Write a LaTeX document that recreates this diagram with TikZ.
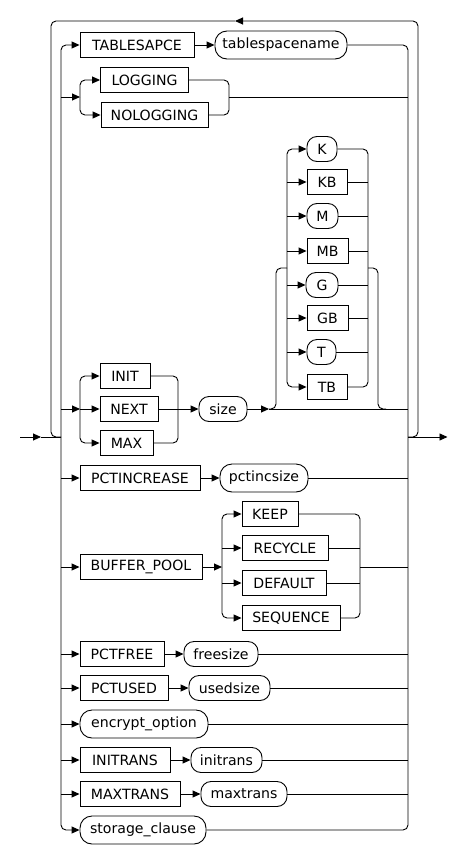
\documentclass[tikz,border=0pt]{standalone}
\usepackage{fontspec}
\setmainfont{DejaVu Sans}
\usetikzlibrary{arrows.meta}
\newcommand\rrfont{\fontsize{14.1}{16}\selectfont}
\tikzset{
  kw/.style={draw, rectangle, minimum height=25, inner sep=0pt, font=\rrfont, line width=0.9pt},
  var/.style={draw, rectangle, rounded corners=10, minimum height=25, inner sep=0pt, font=\rrfont, line width=0.9pt},
  arr/.style={-{Triangle[length=8pt,width=7pt]}},
  rc/.style={rounded corners=5},
}
\begin{document}
\begin{tikzpicture}[x=1pt,y=-1pt,line width=0.9pt]
\useasboundingbox (0,0) rectangle (448,854);
% reference coordinates
\coordinate (L) at (61,0);
\coordinate (R) at (408,0);
\coordinate (in) at (20,437);
\coordinate (inA) at (41,437);
\coordinate (jl) at (61,437);
\coordinate (jr) at (408,437);
\coordinate (out) at (447.5,437);
\coordinate (topA) at (235,21);
% nodes
\node[kw, minimum width=114] (tsp) at (137,45) {TABLESAPCE};
\node[var, minimum width=132, minimum height=28, rounded corners=12] (tspn) at (281,45) {tablespacename};
\node[kw, minimum width=88] (logging) at (144.5,80) {LOGGING};
\node[kw, minimum width=107] (nologging) at (154.5,115) {NOLOGGING};
\node[var, minimum width=30] (K) at (322,149) {K};
\node[kw, minimum width=40] (KB) at (327,182) {KB};
\node[var, minimum width=31] (M) at (322.5,216) {M};
\node[kw, minimum width=41] (MB) at (327.5,251) {MB};
\node[var, minimum width=32] (G) at (322,285) {G};
\node[kw, minimum width=41] (GB) at (327.5,318) {GB};
\node[var, minimum width=29] (T) at (321.5,352) {T};
\node[kw, minimum width=40] (TB) at (327,387) {TB};
\node[kw, minimum width=50] (init) at (125,376) {INIT};
\node[kw, minimum width=58] (next) at (129,409) {NEXT};
\node[kw, minimum width=53] (max) at (126.5,443) {MAX};
\node[var, minimum width=48] (size) at (223,409) {size};
\node[kw, minimum width=120] (pctinc) at (140,478) {PCTINCREASE};
\node[var, minimum width=88, minimum height=28, rounded corners=12] (pctincsize) at (264,478) {pctincsize};
\node[kw, minimum width=122] (bp) at (141,567) {BUFFER\_POOL};
\node[kw, minimum width=56] (keep) at (270,514) {KEEP};
\node[kw, minimum width=86] (recycle) at (285,548) {RECYCLE};
\node[kw, minimum width=84] (default) at (284,583) {DEFAULT};
\node[kw, minimum width=98] (sequence) at (291,618) {SEQUENCE};
\node[kw, minimum width=84] (pctfree) at (122,654) {PCTFREE};
\node[var, minimum width=74] (freesize) at (221,654) {freesize};
\node[kw, minimum width=88] (pctused) at (124,688) {PCTUSED};
\node[var, minimum width=81] (usedsize) at (229.5,688) {usedsize};
\node[var, minimum width=128, minimum height=28, rounded corners=12] (enc) at (144,724) {encrypt\_option};
\node[kw, minimum width=90] (initrans) at (125,760) {INITRANS};
\node[var, minimum width=71] (initransv) at (226.5,760) {initrans};
\node[kw, minimum width=100] (maxtrans) at (130,794) {MAXTRANS};
\node[var, minimum width=86] (maxtransv) at (244,794) {maxtrans};
\node[var, minimum width=126, minimum height=28, rounded corners=12] (storage) at (143,830) {storage\_clause};
% main line and loop
\draw[arr] (in) -- (inA);
\draw (inA) -- (jl);
\draw[arr] (jr) -- (out);
\draw[rc,arr] (jr) -- (418,437) -- (418,21) -- (topA);
\draw[rc] (topA) -- (51,21) -- (51,437) -- (jl);
% inner choice verticals
\draw[rc,arr] (jl) -- (L |- tsp.west) -- (tsp.west);
\draw[rc,arr] (jl) -- (L |- storage.west) -- (storage.west);
\draw[rc] (tspn.east) -- (R |- tspn.east) -- (R |- storage.east) -- (storage.east);
% TABLESAPCE row
\draw[arr] (tsp.east) -- (tspn.west);
% LOGGING row
\coordinate (lgs) at (80,97);
\coordinate (lgj) at (229,97);
\draw[arr] (L |- lgs) -- (lgs);
\draw[rc,arr] (lgs) -- (lgs |- logging.west) -- (logging.west);
\draw[rc,arr] (lgs) -- (lgs |- nologging.west) -- (nologging.west);
\draw[rc] (logging.east) -- (lgj |- logging.east) -- (lgj |- nologging.east) -- (nologging.east);
\draw (lgj) -- (R |- lgj);
% INIT/NEXT/MAX row
\coordinate (ins) at (80,409);
\coordinate (inj) at (178,409);
\draw[arr] (L |- ins) -- (ins);
\draw[arr] (ins) -- (next.west);
\draw[rc,arr] (ins) -- (ins |- init.west) -- (init.west);
\draw[rc,arr] (ins) -- (ins |- max.west) -- (max.west);
\draw[rc] (init.east) -- (inj |- init.east) -- (inj |- max.east) -- (max.east);
\draw[arr] (next.east) -- (size.west);
\coordinate (opt) at (269,409);
\draw[arr] (size.east) -- (opt);
\draw (opt) -- (R |- opt);
% optional unit group
\coordinate (ks) at (287,268);
\coordinate (kj) at (368,268);
\draw[rc] (opt) -- (276,409) -- (276,268) -- (ks);
\draw[rc] (kj) -- (378,268) -- (378,409) -- (386,409);
\draw[rc,arr] (ks) -- (ks |- K.west) -- (K.west);
\draw[rc,arr] (ks) -- (ks |- TB.west) -- (TB.west);
\draw[arr] (ks |- KB.west) -- (KB.west);
\draw[arr] (ks |- M.west) -- (M.west);
\draw[arr] (ks |- MB.west) -- (MB.west);
\draw[arr] (ks |- G.west) -- (G.west);
\draw[arr] (ks |- GB.west) -- (GB.west);
\draw[arr] (ks |- T.west) -- (T.west);
\draw[rc] (K.east) -- (kj |- K.east) -- (kj |- TB.east) -- (TB.east);
\draw (KB.east) -- (kj |- KB.east);
\draw (M.east) -- (kj |- M.east);
\draw (MB.east) -- (kj |- MB.east);
\draw (G.east) -- (kj |- G.east);
\draw (GB.east) -- (kj |- GB.east);
\draw (T.east) -- (kj |- T.east);
% PCTINCREASE
\draw[arr] (L |- pctinc.west) -- (pctinc.west);
\draw[arr] (pctinc.east) -- (pctincsize.west);
\draw (pctincsize.east) -- (R |- pctincsize.east);
% BUFFER_POOL
\coordinate (bps) at (222,567);
\coordinate (bpj) at (360,567);
\draw[arr] (L |- bp.west) -- (bp.west);
\draw[arr] (bp.east) -- (bps);
\draw[rc,arr] (bps) -- (bps |- keep.west) -- (keep.west);
\draw[rc,arr] (bps) -- (bps |- sequence.west) -- (sequence.west);
\draw[arr] (bps |- recycle.west) -- (recycle.west);
\draw[arr] (bps |- default.west) -- (default.west);
\draw[rc] (keep.east) -- (bpj |- keep.east) -- (bpj |- sequence.east) -- (sequence.east);
\draw (recycle.east) -- (bpj |- recycle.east);
\draw (default.east) -- (bpj |- default.east);
\draw (bpj) -- (R |- bpj);
% PCTFREE
\draw[arr] (L |- pctfree.west) -- (pctfree.west);
\draw[arr] (pctfree.east) -- (freesize.west);
\draw (freesize.east) -- (R |- freesize.east);
% PCTUSED
\draw[arr] (L |- pctused.west) -- (pctused.west);
\draw[arr] (pctused.east) -- (usedsize.west);
\draw (usedsize.east) -- (R |- usedsize.east);
% encrypt_option
\draw[arr] (L |- enc.west) -- (enc.west);
\draw (enc.east) -- (R |- enc.east);
% INITRANS
\draw[arr] (L |- initrans.west) -- (initrans.west);
\draw[arr] (initrans.east) -- (initransv.west);
\draw (initransv.east) -- (R |- initransv.east);
% MAXTRANS
\draw[arr] (L |- maxtrans.west) -- (maxtrans.west);
\draw[arr] (maxtrans.east) -- (maxtransv.west);
\draw (maxtransv.east) -- (R |- maxtransv.east);
\end{tikzpicture}
\end{document}
